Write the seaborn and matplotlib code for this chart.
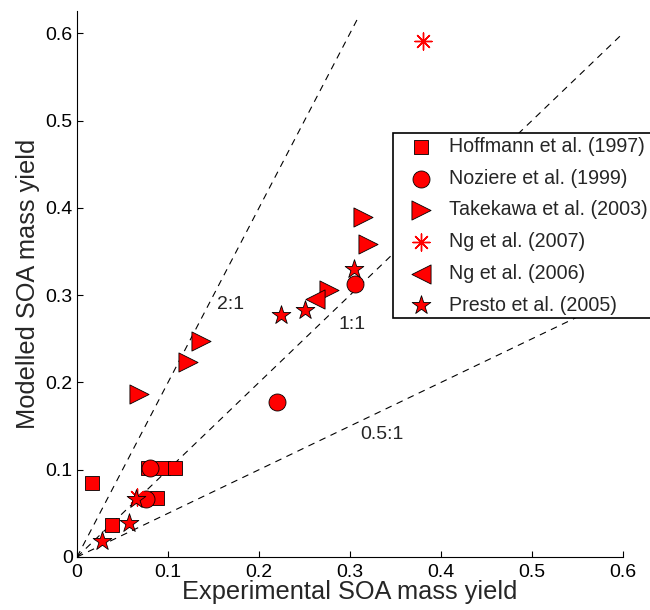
import numpy as np
import pandas as pd
import seaborn as sns
import matplotlib.pyplot as plt

# 数据
hoffmann_x = [0.017, 0.038, 0.078, 0.094, 0.108, 0.088]
hoffmann_y = [0.085, 0.037, 0.102, 0.102, 0.102, 0.068]
noziere_x = [0.080, 0.076, 0.220, 0.306]
noziere_y = [0.102, 0.066, 0.177, 0.313]
takekawa_x = [0.068, 0.122, 0.136, 0.277, 0.314, 0.320]
takekawa_y = [0.187, 0.223, 0.248, 0.306, 0.389, 0.359]
ng2007_x = [0.380, 0.066]
ng2007_y = [0.591, 0.069]
ng2006_x = [0.262]
ng2006_y = [0.296]
presto_x = [0.027, 0.057, 0.065, 0.224, 0.251, 0.304]
presto_y = [0.018, 0.039, 0.067, 0.277, 0.283, 0.330]

# 参考线 (ratio, 终点 x, 标签, 标签位置)
ratios = [2.0, 1.0, 0.5]
ratio_end_x = [0.31, 0.6, 0.6]
ratio_labels = ['2:1', '1:1', '0.5:1']
label_x = [0.154, 0.287, 0.311]
label_y = [0.289, 0.266, 0.140]

studies = [
    ('Hoffmann et al. (1997)', hoffmann_x, hoffmann_y, 's', 100),
    ('Noziere et al. (1999)', noziere_x, noziere_y, 'o', 150),
    ('Takekawa et al. (2003)', takekawa_x, takekawa_y, '>', 190),
    ('Ng et al. (2007)', ng2007_x, ng2007_y, (8, 2, 0), 150),
    ('Ng et al. (2006)', ng2006_x, ng2006_y, '<', 190),
    ('Presto et al. (2005)', presto_x, presto_y, '*', 200),
]

sns.set_theme(style='white')
plt.rcParams['font.family'] = ['Liberation Sans', 'DejaVu Sans']

fig = plt.figure(figsize=(6.5, 6.1), dpi=100)
ax = fig.add_axes([0.1185, 0.0869, 0.84, 0.8944])

for r, xe in zip(ratios, ratio_end_x):
    xs = np.array([0.0, xe])
    ax.plot(xs, r * xs, color='black', lw=0.8, dashes=(6, 5), zorder=1)

for lab, lx, ly in zip(ratio_labels, label_x, label_y):
    ax.text(lx, ly, lab, fontsize=14, ha='left', va='center')

for name, xs, ys, mk, sz in studies:
    df = pd.DataFrame({'x': xs, 'y': ys})
    if mk == (8, 2, 0):
        sns.scatterplot(data=df, x='x', y='y', ax=ax, marker=mk, s=sz,
                        color='red', linewidth=1.0, label=name, zorder=3)
    else:
        sns.scatterplot(data=df, x='x', y='y', ax=ax, marker=mk, s=sz,
                        color='red', edgecolor='black', linewidth=0.6,
                        label=name, zorder=3)

ax.set_xlim(0, 0.6)
ax.set_ylim(0, 0.625)
ax.set_xticks([0, 0.1, 0.2, 0.3, 0.4, 0.5, 0.6])
ax.set_xticklabels(['0', '0.1', '0.2', '0.3', '0.4', '0.5', '0.6'])
ax.set_yticks([0, 0.1, 0.2, 0.3, 0.4, 0.5, 0.6])
ax.set_yticklabels(['0', '0.1', '0.2', '0.3', '0.4', '0.5', '0.6'])
ax.tick_params(direction='in', length=4, width=0.8, labelsize=14,
               left=True, bottom=True, colors='black')
ax.tick_params(axis='x', pad=5)
ax.tick_params(axis='y', pad=3)
sns.despine(ax=ax)
for s in ['left', 'bottom']:
    ax.spines[s].set_color('black')
    ax.spines[s].set_linewidth(0.8)

ax.set_xlabel('Experimental SOA mass yield', fontsize=18.3, labelpad=-1)
ax.set_ylabel('Modelled SOA mass yield', fontsize=18.3, labelpad=4)

leg = ax.legend(loc='upper left', bbox_to_anchor=(393 / 650, 1 - 133 / 610),
                bbox_transform=fig.transFigure, fontsize=14.1, frameon=True,
                fancybox=False, framealpha=1, edgecolor='black',
                borderaxespad=0, labelspacing=0.65, handletextpad=0.15,
                borderpad=0.2, handlelength=2.5)
leg.get_frame().set_linewidth(1.2)

plt.savefig('out.png', dpi=100)
